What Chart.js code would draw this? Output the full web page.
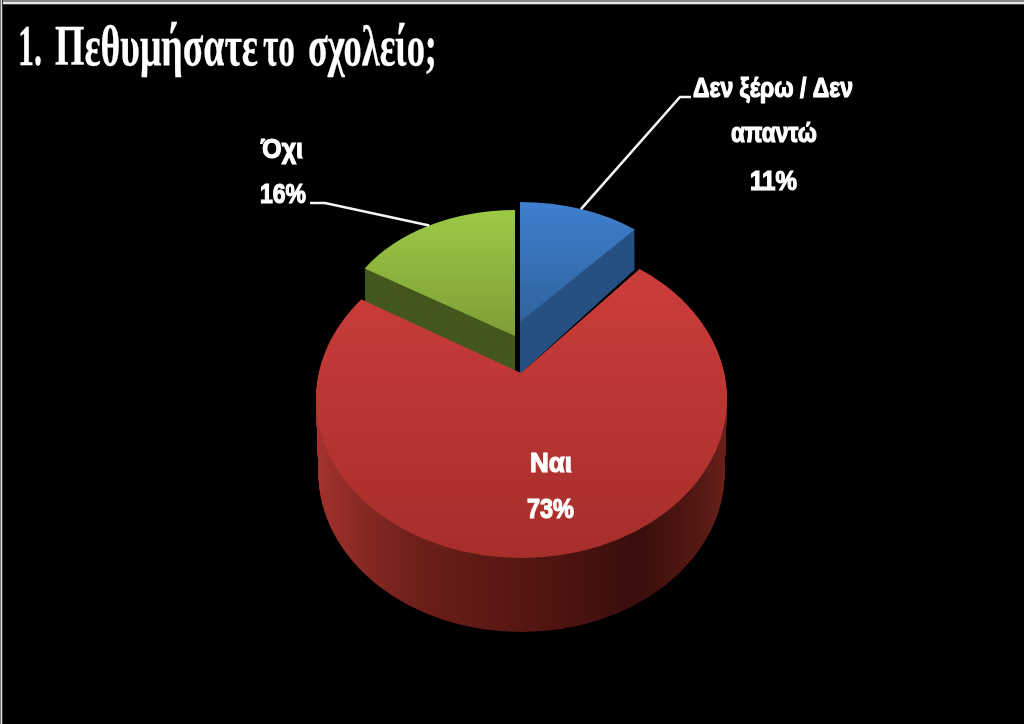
<!DOCTYPE html>
<html lang="el">
<head>
<meta charset="utf-8">
<title>Πεθυμήσατε το σχολείο</title>
<script src="https://cdn.jsdelivr.net/npm/chart.js@4"></script>
<style>
  html, body { margin: 0; padding: 0; background: #000; overflow: hidden; }
  #frameTop { position: fixed; left: 0; top: 0; width: 1024px; height: 5px; pointer-events: none;
              background: linear-gradient(#8a8a8a 0 2px, #e8e8e8 2px 4px, #444 4px 5px); }
  #frameLeft { position: fixed; left: 0; top: 0; width: 3px; height: 724px; pointer-events: none;
               background: linear-gradient(90deg, #777 0 1px, #e0e0e0 1px 2px, #333 2px 3px); }
  canvas { display: block; filter: blur(0.5px); }
</style>
</head>
<body>
<canvas id="myChart" width="1024" height="724"></canvas>
<div id="frameTop"></div>
<div id="frameLeft"></div>
<script>
const titleText = "1. Πεθυμήσατε το σχολείο;";
const categories = ["Δεν ξέρω / Δεν απαντώ", "Ναι", "Όχι"];
const values = [11, 73, 16];
const labelLines = [["Δεν ξέρω / Δεν", "απαντώ"], ["Ναι"], ["Όχι"]];

// where each slice's top face lands on the page (order: blue, red, green)
const blueFace = { cx: 520, cy: 322, rx: 180, ry: 120, apexDrop: 52, rimDrop: 40, top: "#3f7fce", bottom: "#2f639c", wall: "#264f82" };
const greenFace = { cx: 515, cy: 336, rx: 178, ry: 126, apexDrop: 38, rimDrop: 33, top: "#9dc945", bottom: "#7d9e37", wall: "#44581d" };
// red is a large wedge cut by the ellipse of the rim
const redFace = { cx: 521, cy: 373, rx: 266, ry: 193, depth: 74 };
const redRim = { cx: 521.5, cy: 399, rx: 205.5, ry: 159, bottomRx: 203 };

// [left, right, baseline] of every text line
const labelBoxes = [
  [[693, 853, 97], [731, 817, 142], [750, 797, 190]],
  [[530, 572, 472], [527, 574, 518]],
  [[261, 303, 158], [260, 306, 203]],
];
const titleBoxes = [[18, 42], [55, 258], [263, 295], [308, 437]];
const leaderElbows = [[[691, 97], [680, 97]], null, [[310, 203], [325, 203]]];

const localY = (arc, face, y) => arc.y + ((y - face.cy) * arc.outerRadius) / face.ry;
const localX = (arc, face, x) => arc.x + ((x - face.cx) * arc.outerRadius) / face.rx;

const drawArcAt = (ctx, arc, face, fill) => {
  ctx.save();
  ctx.translate(face.cx, face.cy);
  ctx.scale(face.rx / arc.outerRadius, face.ry / arc.outerRadius);
  ctx.translate(-arc.x, -arc.y);
  const plain = arc.options;
  arc.options = Object.assign({}, plain, { backgroundColor: fill });
  arc.draw(ctx);
  arc.options = plain;
  ctx.restore();
};

const drawBlock = (ctx, arc, face) => {
  const spread = (face.apexDrop - face.rimDrop) / 0.77;
  for (let i = face.apexDrop; i > 0; i--) {
    const t = i / face.apexDrop;
    const step = Object.assign({}, face, { cy: face.cy + face.apexDrop * t, ry: face.ry + spread * t });
    drawArcAt(ctx, arc, step, face.wall);
  }
  const grad = ctx.createLinearGradient(0, localY(arc, face, face.cy - face.ry), 0, localY(arc, face, face.cy));
  grad.addColorStop(0, face.top);
  grad.addColorStop(1, face.bottom);
  drawArcAt(ctx, arc, face, grad);
};

const clipRim = (ctx, rim, drop, t) => {
  ctx.beginPath();
  ctx.ellipse(rim.cx, rim.cy + drop, rim.rx + (rim.bottomRx - rim.rx) * t, rim.ry, 0, 0, Math.PI * 2);
  ctx.clip();
};

const drawRed = (ctx, arc) => {
  const wallGrad = ctx.createLinearGradient(localX(arc, redFace, 316), 0, localX(arc, redFace, 727), 0);
  wallGrad.addColorStop(0, "#a5322d");
  wallGrad.addColorStop(0.1, "#8a2a25");
  wallGrad.addColorStop(0.25, "#6c1f19");
  wallGrad.addColorStop(0.5, "#561612");
  wallGrad.addColorStop(0.78, "#3a0e0b");
  wallGrad.addColorStop(0.93, "#541814");
  wallGrad.addColorStop(1, "#6a201b");
  for (let i = redFace.depth; i > 0; i--) {
    ctx.save();
    clipRim(ctx, redRim, i, i / redFace.depth);
    drawArcAt(ctx, arc, Object.assign({}, redFace, { cy: redFace.cy + i }), wallGrad);
    ctx.restore();
  }
  const topGrad = ctx.createLinearGradient(0, localY(arc, redFace, 270), 0, localY(arc, redFace, 558));
  topGrad.addColorStop(0, "#cb3d3a");
  topGrad.addColorStop(1, "#a62e2b");
  ctx.save();
  clipRim(ctx, redRim, 0, 0);
  drawArcAt(ctx, arc, redFace, topGrad);
  ctx.restore();
};

const fitText = (ctx, text, left, right, baseline) => {
  const width = ctx.measureText(text).width;
  ctx.save();
  ctx.translate(left, baseline);
  ctx.scale((right - left) / width, 1);
  ctx.fillText(text, 0, 0);
  ctx.strokeText(text, 0, 0);
  ctx.restore();
};

const drawLeaders = (ctx, arcs, faces) => {
  ctx.strokeStyle = "#f4f4f4";
  ctx.lineWidth = 2.6;
  leaderElbows.forEach((elbow, i) => {
    if (!elbow) return;
    const mid = (arcs[i].startAngle + arcs[i].endAngle) / 2;
    ctx.beginPath();
    ctx.moveTo(elbow[0][0], elbow[0][1]);
    ctx.lineTo(elbow[1][0], elbow[1][1]);
    ctx.lineTo(faces[i].cx + Math.cos(mid) * faces[i].rx, faces[i].cy + Math.sin(mid) * faces[i].ry);
    ctx.stroke();
  });
};

const drawTexts = (ctx) => {
  ctx.fillStyle = "#ffffff";
  ctx.strokeStyle = "#ffffff";
  ctx.textBaseline = "alphabetic";
  ctx.textAlign = "left";
  ctx.font = 'bold 27px "Liberation Sans", sans-serif';
  ctx.lineWidth = 1.2;
  labelBoxes.forEach((lines, i) => {
    const texts = [...labelLines[i], `${values[i]}%`];
    lines.forEach((box, j) => fitText(ctx, texts[j], box[0], box[1], box[2]));
  });
  ctx.font = 'bold 58px "Liberation Serif", serif';
  ctx.lineWidth = 0.3;
  titleText.split(" ").forEach((word, i) => {
    fitText(ctx, word, titleBoxes[i][0], titleBoxes[i][1], 65);
  });
};

const pie3d = {
  id: "pie3d",
  beforeDatasetDraw: (chart) => {
    const { ctx } = chart;
    const arcs = chart.getDatasetMeta(0).data;
    drawBlock(ctx, arcs[0], blueFace);
    drawBlock(ctx, arcs[2], greenFace);
    drawRed(ctx, arcs[1]);
    drawLeaders(ctx, arcs, [blueFace, redFace, greenFace]);
    drawTexts(ctx);
    return false;
  },
};

new Chart(document.getElementById("myChart").getContext("2d"), {
  type: "pie",
  data: {
    labels: categories,
    datasets: [{ data: values, borderWidth: 0, backgroundColor: "#000" }],
  },
  options: {
    responsive: false,
    animation: false,
    plugins: { legend: { display: false }, tooltip: { enabled: false } },
  },
  plugins: [pie3d],
});
</script>
</body>
</html>
